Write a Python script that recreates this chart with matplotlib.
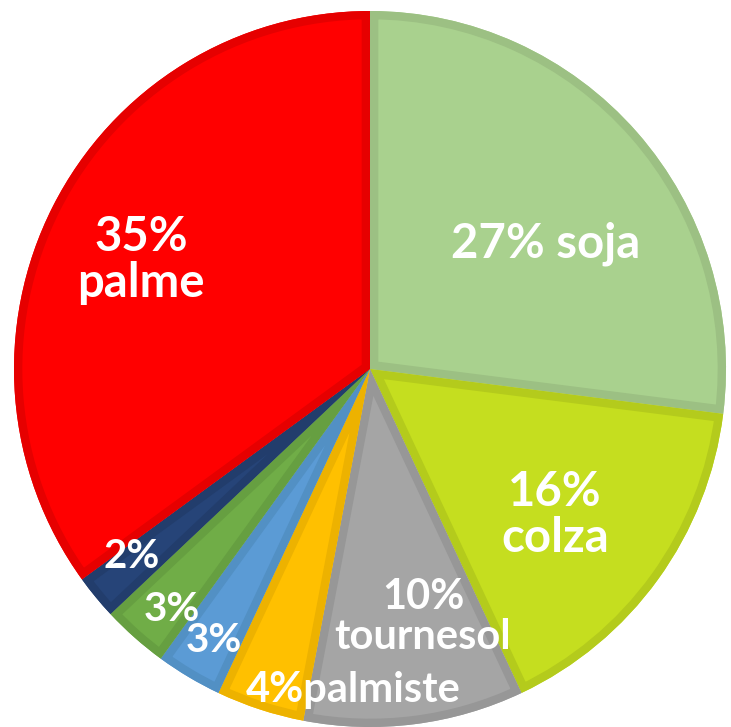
import matplotlib
matplotlib.use("Agg")
import matplotlib.pyplot as plt
import matplotlib.patches as mpatches

# slice data, clockwise from 12 o'clock
labels = ["27% soja", "16%\ncolza", "10%\ntournesol", "4%palmiste", "3%", "3%", "2%", "35%\npalme"]
shares = [27, 16, 10, 4, 3, 3, 2, 35]
fills = ["#A9D18E", "#C5DE1F", "#A5A5A5", "#FFC000", "#5B9BD5", "#70AD47", "#264478", "#FF0000"]
edges = ["#9CC083", "#B4CB1C", "#979797", "#EDB200", "#5290C4", "#669F41", "#223D6C", "#E60000"]
# where each label sits (data units, pie radius = 1) and its size
label_xy = [(0.494, 0.349), (0.520, -0.408), (0.149, -0.693), (-0.048, -0.897),
            (-0.438, -0.757), (-0.556, -0.673), (-0.669, -0.525), (-0.643, 0.304)]
label_size = [34, 34, 30, 30, 29, 29, 29, 34]

fig = plt.figure(figsize=(7.31, 7.27), dpi=100)
ax = fig.add_axes([0, 0, 1, 1])

wedges, _ = ax.pie(shares, colors=fills, startangle=90, counterclock=False,
                   radius=1, wedgeprops=dict(linewidth=0))

# inner darker border like the office chart style:
# stroke a copy of each wedge, clipped to the wedge shape
for w, ec in zip(wedges, edges):
    border = mpatches.Wedge(w.center, w.r, w.theta1, w.theta2, facecolor="none",
                            edgecolor=ec, linewidth=12, joinstyle="bevel",
                            transform=ax.transData)
    clip = mpatches.Wedge(w.center, w.r, w.theta1, w.theta2, transform=ax.transData)
    ax.add_patch(border)
    border.set_clip_path(clip)

for txt, (x, y), fs in zip(labels, label_xy, label_size):
    ax.text(x, y, txt, ha="center", va="center", color="white",
            fontsize=fs, fontweight="bold", family="Lato", linespacing=1.05)

ax.set_xlim(-370 / 356, 361 / 356)
ax.set_ylim(-358 / 358, 369 / 358)
ax.set_aspect("auto")
ax.axis("off")

fig.savefig("out.png", dpi=100)
